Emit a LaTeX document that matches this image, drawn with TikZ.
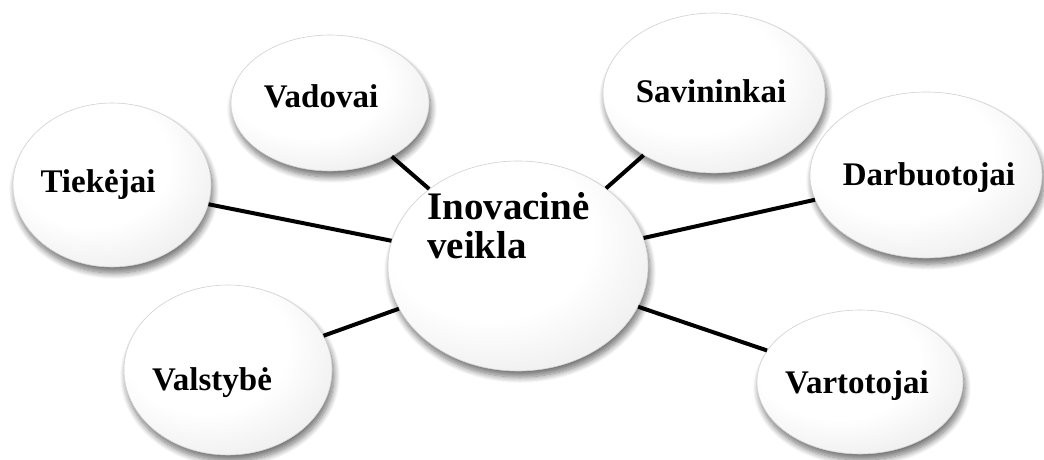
\documentclass[tikz,border=0pt]{standalone}
\usepackage{fontspec}
\setmainfont{Liberation Serif}
\usetikzlibrary{shapes.geometric,shadows.blur}

% white bubble, greying towards the lower right rim
\pgfdeclareradialshading{bubble}{\pgfpoint{-7bp}{9bp}}{%
  color(0bp)=(white); color(20bp)=(white); color(35bp)=(black!7);
  color(45bp)=(black!17); color(52bp)=(black!38); color(60bp)=(black!55);
  color(100bp)=(black!55)}

\tikzset{
  bubble/.style={ellipse, inner sep=0pt, shading=bubble, draw=black!18, line width=0.6pt,
    blur shadow={shadow xshift=2pt, shadow yshift=-6pt, shadow blur steps=10,
      shadow blur radius=6pt, shadow opacity=55}},
  lbl/.style={anchor=base, font=\bfseries\fontsize{33}{39}\selectfont},
  link/.style={line width=4pt, black}
}

\begin{document}
\begin{tikzpicture}[x=1pt, y=-1pt]
  \useasboundingbox (0,0) rectangle (1044,460);

  % satellite bubbles
  \node[bubble, minimum width=198pt, minimum height=136pt] (vad) at (330,103) {};
  \node[bubble, minimum width=198pt, minimum height=164pt] (tie) at (112,185) {};
  \node[bubble, minimum width=222pt, minimum height=160pt] (sav) at (714,93) {};
  \node[bubble, minimum width=232pt, minimum height=166pt] (dar) at (926,175) {};
  \node[bubble, minimum width=208pt, minimum height=170pt] (val) at (228,370) {};
  \node[bubble, minimum width=206pt, minimum height=144pt] (var) at (860,382) {};

  % central bubble
  \node[bubble, minimum width=260pt, minimum height=210pt] (ino) at (518,266) {};

  % spokes
  \draw[link] (ino) -- (vad);
  \draw[link] (ino) -- (tie);
  \draw[link] (ino) -- (sav);
  \draw[link] (ino) -- (dar);
  \draw[link] (ino) -- (val);
  \draw[link] (ino) -- (var);

  % labels
  \node[lbl] (vad-t) at (321,107) {Vadovai};
  \node[lbl] (tie-t) at (98,192) {Tiekėjai};
  \node[lbl] (sav-t) at (711,102) {Savininkai};
  \node[lbl] (dar-t) at (929,185) {Darbuotojai};
  \node[lbl] (val-t) at (212,390) {Valstybė};
  \node[lbl] (var-t) at (857,393) {Vartotojai};
  \node[anchor=base west, align=left, inner sep=0pt,
        font=\bfseries\fontsize{39}{39}\selectfont] (ino-t) at (427,258)
        {Inovacinė\\veikla};
\end{tikzpicture}
\end{document}
